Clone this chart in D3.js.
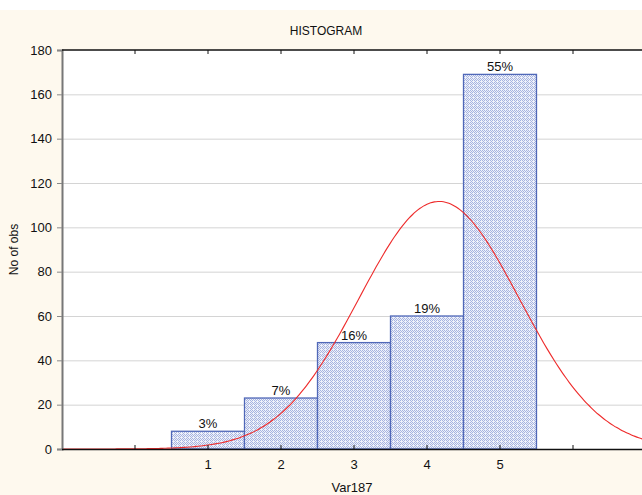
<!DOCTYPE html>
<html>
<head>
<meta charset="utf-8">
<script src="https://cdn.jsdelivr.net/npm/d3@7"></script>
<style>
  body { margin: 0; background: #fff; }
  svg { display: block; font-family: "Liberation Sans", Arial, sans-serif; }
</style>
</head>
<body>
<svg id="chart" width="642" height="495"></svg>
<script>
const categories = [1, 2, 3, 4, 5]
const counts = [8, 23, 48, 60, 169]
const percentLabels = ['3%', '7%', '16%', '19%', '55%']
const yTicks = [0, 20, 40, 60, 80, 100, 120, 140, 160, 180]
const xTickLabels = ['1', '2', '3', '4', '5']

const svg = d3.select('#chart')
const width = 642, height = 495
const margin = { top: 50, right: -4, bottom: 46, left: 62 }
const plotW = width - margin.left - margin.right
const plotH = height - margin.top - margin.bottom

// background
svg.append('rect').attr('x', 0).attr('y', 10).attr('width', width).attr('height', height - 10)
    .attr('fill', '#fef9ee')

// dotted fill like the original
const defs = svg.append('defs')
const pat = defs.append('pattern').attr('id', 'dots')
    .attr('patternUnits', 'userSpaceOnUse').attr('width', 4).attr('height', 4)
pat.append('rect').attr('width', 4).attr('height', 4).attr('fill', '#eef1fa')
;[[0, 0], [2, 0], [1, 1], [3, 1], [0, 2], [2, 2], [1, 3]].forEach(p => {
    pat.append('rect').attr('x', p[0]).attr('y', p[1]).attr('width', 1).attr('height', 1)
        .attr('fill', '#a7b4e0')
})

defs.append('clipPath').attr('id', 'clip').append('rect')
    .attr('width', plotW).attr('height', plotH + 1)

const x = d3.scaleLinear().domain([-1, 7]).range([0, plotW])
const y = d3.scaleLinear().domain([0, 180]).range([plotH, 0])

const g = svg.append('g').attr('transform', `translate(${margin.left},${margin.top})`)

g.append('rect').attr('width', plotW).attr('height', plotH).attr('fill', '#fff')

// grid
g.append('g')
    .selectAll('line')
    .data(yTicks.filter(d => d > 0 && d < 180))
    .enter().append('line')
    .attr('x1', 0).attr('x2', plotW)
    .attr('y1', d => y(d) + 0.5).attr('y2', d => y(d) + 0.5)
    .attr('stroke', '#d4d4d4').attr('stroke-width', 1)

// bars
g.append('g')
    .selectAll('rect')
    .data(categories)
    .enter().append('rect')
    .attr('x', d => x(d - 0.5))
    .attr('y', (d, i) => y(counts[i]))
    .attr('width', x(1) - x(0))
    .attr('height', (d, i) => y(0) - y(counts[i]))
    .attr('fill', 'url(#dots)')
    .attr('stroke', '#5068b8').attr('stroke-width', 1.3)

// percent labels
g.append('g')
    .selectAll('text')
    .data(categories)
    .enter().append('text')
    .attr('x', d => x(d))
    .attr('y', (d, i) => y(counts[i]) - 3)
    .attr('text-anchor', 'middle')
    .attr('font-size', 13)
    .attr('fill', '#111')
    .text((d, i) => percentLabels[i])

// fitted normal curve from the binned data
const total = d3.sum(counts)
const mean = d3.sum(categories, (c, i) => c * counts[i]) / total
const sd = Math.sqrt(d3.sum(categories, (c, i) => counts[i] * (c - mean) ** 2) / total)
const curveX = d3.range(-1, 7.01, 0.05)
const line = d3.line()
    .x(v => x(v))
    .y(v => y(total * Math.exp(-0.5 * ((v - mean) / sd) ** 2) / (sd * Math.sqrt(2 * Math.PI))))
    .curve(d3.curveBasis)
g.append('path')
    .datum(curveX)
    .attr('d', line)
    .attr('fill', 'none')
    .attr('stroke', '#ee2b2b')
    .attr('stroke-width', 1.1)
    .attr('clip-path', 'url(#clip)')

// y axis
const yAxis = g.append('g')
    .call(d3.axisLeft(y).tickValues(yTicks).tickSize(5).tickPadding(5))
yAxis.select('.domain').attr('stroke', '#777').attr('stroke-width', 2)
yAxis.selectAll('.tick line').attr('stroke', '#888')
yAxis.selectAll('text').attr('font-size', 13).attr('fill', '#111')
    .attr('font-family', '"Liberation Sans", Arial, sans-serif')

// bottom axis
g.append('line').attr('x1', 0).attr('x2', plotW).attr('y1', plotH + 0.5).attr('y2', plotH + 0.5)
    .attr('stroke', '#111').attr('stroke-width', 1.3)
const bottomTicks = d3.range(0, 8)
g.append('g').selectAll('line').data(bottomTicks).enter().append('line')
    .attr('x1', d => x(d)).attr('x2', d => x(d))
    .attr('y1', plotH).attr('y2', plotH - 4)
    .attr('stroke', '#111')
g.append('g').selectAll('text').data(categories).enter().append('text')
    .attr('x', d => x(d))
    .attr('y', plotH + 20)
    .attr('text-anchor', 'middle')
    .attr('font-size', 13)
    .attr('fill', '#111')
    .text((d, i) => xTickLabels[i])

// top border
g.append('line').attr('x1', 0).attr('x2', plotW).attr('y1', 0).attr('y2', 0)
    .attr('stroke', '#111').attr('stroke-width', 1.5)
g.append('g').selectAll('line').data(bottomTicks).enter().append('line')
    .attr('x1', d => x(d)).attr('x2', d => x(d))
    .attr('y1', 0).attr('y2', 4)
    .attr('stroke', '#111')

// titles
svg.append('text').attr('x', 326).attr('y', 35).attr('text-anchor', 'middle')
    .attr('font-size', 12).attr('fill', '#111').text('HISTOGRAM')
svg.append('text').attr('x', 352).attr('y', 492).attr('text-anchor', 'middle')
    .attr('font-size', 13).attr('fill', '#111').text('Var187')
svg.append('text')
    .attr('transform', `translate(18,${margin.top + plotH / 2}) rotate(-90)`)
    .attr('text-anchor', 'middle')
    .attr('font-size', 12).attr('fill', '#111').text('No of obs')
</script>
</body>
</html>
